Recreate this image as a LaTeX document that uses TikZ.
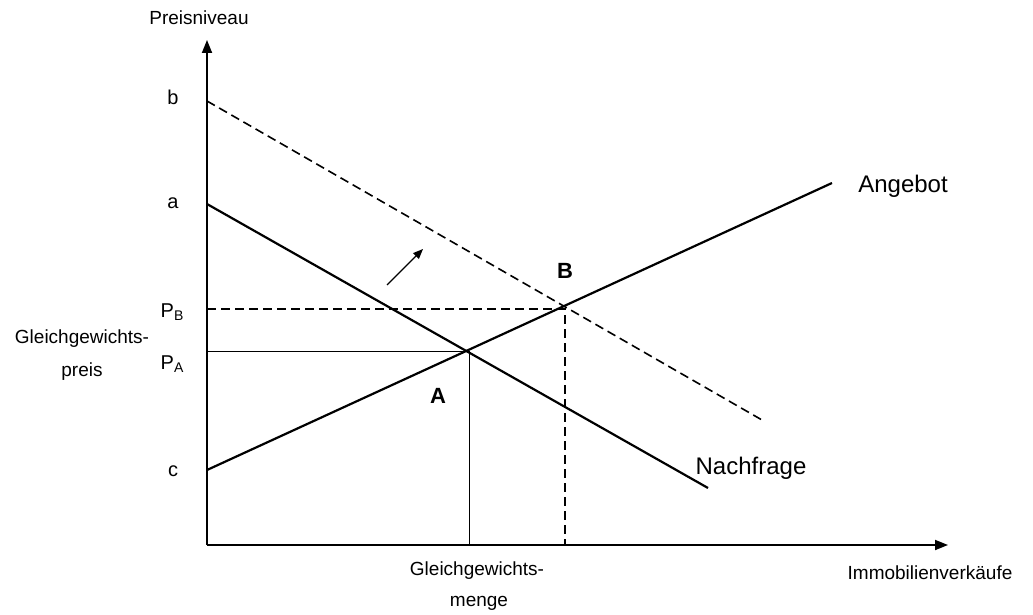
\documentclass[tikz,border=0pt]{standalone}
\usepackage{fontspec}
\setmainfont{Liberation Sans}
\usetikzlibrary{arrows.meta}
\newcommand{\mysub}[1]{\raisebox{-3.5pt}{\fontsize{14}{16}\selectfont #1}}
\begin{document}
\begin{tikzpicture}[x=1pt,y=-1pt,
  axis/.style={line width=1.8pt,-{Triangle[length=13pt,width=10pt]}},
  curve/.style={line width=2.2pt},
  dcurve/.style={line width=1.6pt,dash pattern=on 9pt off 5pt},
  guide/.style={line width=1pt},
  dguide/.style={line width=1.6pt,dash pattern=on 9pt off 5pt},
  small/.style={font=\fontsize{19}{22}\selectfont,inner sep=0pt},
  big/.style={font=\fontsize{24}{28}\selectfont,inner sep=0pt},
  lbl/.style={font=\fontsize{20}{24}\selectfont,inner sep=0pt},
  bold/.style={font=\fontsize{22}{26}\selectfont\bfseries,inner sep=0pt}]
\useasboundingbox (0,0) rectangle (1033,615);
% axes
\coordinate (O) at (207,545);
\coordinate (Ytop) at (207,40);
\coordinate (Xend) at (948,545);
\draw[axis] (O) -- (Ytop);
\draw[axis] (O) -- (Xend);
% curves
\coordinate (Da) at (207,204);
\coordinate (Db) at (708,488);
\coordinate (Dda) at (207,101);
\coordinate (Ddb) at (762,420);
\coordinate (Sa) at (207,470);
\coordinate (Sb) at (832,183);
\coordinate (A) at (469,351);
\coordinate (B) at (565,309);
\coordinate (PA) at (207,351);
\coordinate (PB) at (207,309);
\coordinate (QA) at (469,545);
\coordinate (QB) at (565,545);
\draw[curve] (Da) -- (Db);
\draw[curve] (Sa) -- (Sb);
\draw[dcurve] (Dda) -- (Ddb);
\draw[guide] (PA) -- (A) -- (QA);
\draw[dguide] (PB) -- (B) -- (QB);
% shift arrow
\coordinate (ar1) at (387,285);
\coordinate (ar2) at (423,249);
\draw[line width=1.2pt,-{Triangle[length=10pt,width=8pt]}] (ar1) -- (ar2);
% labels
\node[small] (ylab) at (199,18) {Preisniveau};
\node[small] (xlab) at (930,573) {Immobilienverkäufe};
\node[lbl] (lb) at (173,97) {b};
\node[lbl] (la) at (173,203) {a};
\node[lbl] (lc) at (173,471) {c};
\node[lbl] (lpb) at (172,312) {P\mysub{B}};
\node[lbl] (lpa) at (172,364) {P\mysub{A}};
\node[small] (gp1) at (82,339) {Gleichgewichts-};
\node[small] (gp2) at (82,372) {preis};
\node[small] (gm1) at (477,571) {Gleichgewichts-};
\node[small] (gm2) at (479,603) {menge};
\node[bold] (lA) at (438,396) {A};
\node[bold] (lB) at (565,271) {B};
\node[big] (ang) at (903,186) {Angebot};
\node[big] (nach) at (751,468) {Nachfrage};
\end{tikzpicture}
\end{document}
